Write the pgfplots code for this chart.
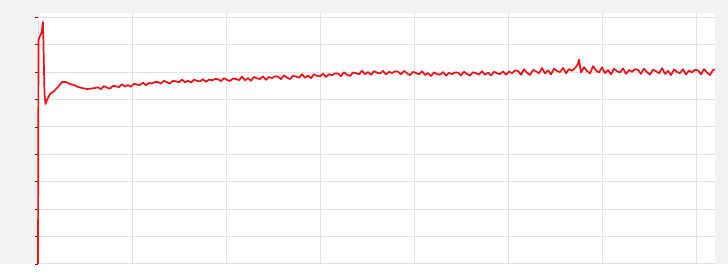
\documentclass[border=0pt]{standalone}
\usepackage{pgfplots}
\pgfplotsset{compat=1.18}
\definecolor{bgc}{HTML}{F2F2F0}
\definecolor{gridc}{HTML}{E2E2E2}
\definecolor{trace}{HTML}{EE1018}
\begin{document}
\begin{tikzpicture}
\fill[bgc] (-38bp,0bp) rectangle (690bp,264bp);
\begin{axis}[
  at={(0bp,0bp)}, anchor=south west,
  scale only axis, width=677bp, height=251bp,
  xmin=0, xmax=677, ymin=0, ymax=251,
  clip=false,
  axis background/.style={fill=white},
  axis line style={draw=none},
  xtick={0,94,188,282,376,470,564,658},
  ytick={0,27.4,54.8,82.2,109.6,137,164.4,191.8,219.2,246.6},
  xticklabels={}, yticklabels={},
  grid=major,
  major grid style={gridc, line width=1bp},
  x tick style={draw=none},
  y tick style={draw=trace!60!black, line width=0.6bp},
  major tick length=2.5bp,
  ytick pos=left, tick align=outside,
]
\addplot[trace, line width=1.7bp, line join=round] coordinates {
(0,0) (0.5,224) (2,228) (3.5,231) (5,242) (6.5,170) (7.5,160) (9,164)
(12,170) (15,172) (17,174) (20,177) (24,182) (28,182) (32,180) (36,179)
(40,177) (44,176) (49,175) (54,175.5)
(60,176.6) (63,174.9) (66,177.9) (69,176.3) (72,175.4) (75,178.2) (78,177.7) (81,176.9)
(84,179.8) (87,177.3) (90,179.0) (93,177.2) (96,180.3) (99,179.4) (102,179.0) (105,181.3)
(108,178.9) (111,181.1) (114,180.5) (117,182.0) (120,182.0) (123,180.3) (126,183.2) (129,181.7)
(132,180.6) (135,183.2) (138,182.6) (141,181.7) (144,184.4) (147,181.7) (150,183.3) (153,181.4)
(156,184.3) (159,183.2) (162,182.7) (165,184.8) (168,182.2) (171,184.4) (174,183.6) (177,185.0)
(180,184.8) (183,182.9) (186,185.8) (189,184.1) (192,183.0) (195,185.6) (198,184.9) (201,183.9)
(204,187.3) (207,183.8) (210,185.9) (213,183.2) (216,187.1) (219,185.6) (222,184.9) (225,187.6)
(228,184.2) (231,187.0) (234,185.9) (237,187.7) (240,187.4) (243,184.9) (246,188.7) (249,186.4)
(252,184.9) (255,188.3) (258,187.4) (261,186.3) (264,189.7) (267,186.3) (270,188.4) (273,185.8)
(276,189.7) (279,188.2) (282,187.6) (285,190.3) (288,187.0) (291,189.8) (294,188.7) (297,190.6)
(300,190.4) (303,187.9) (306,191.7) (309,189.4) (312,188.0) (315,191.5) (318,190.8) (321,189.7)
(324,193.2) (327,189.8) (330,192.0) (333,189.2) (336,192.9) (339,191.3) (342,190.5) (345,193.1)
(348,189.6) (351,192.2) (354,191.0) (357,192.7) (360,192.3) (363,189.7) (366,193.1) (369,190.6)
(372,188.9) (375,192.1) (378,191.0) (381,189.6) (384,192.8) (387,189.0) (390,190.9) (393,188.0)
(396,191.6) (399,190.0) (402,189.3) (405,191.9) (408,188.4) (411,191.1) (414,189.9) (417,191.6)
(420,191.3) (423,188.7) (426,192.3) (429,190.0) (432,188.4) (435,191.7) (438,190.8) (441,189.5)
(444,192.8) (447,189.3) (450,191.3) (453,188.5) (456,192.3) (459,190.7) (462,189.9) (465,192.6)
(468,189.3) (471,192.5) (474,190.8) (477,193.6) (480,193.1) (483,189.2) (486,194.7) (489,191.3)
(492,189.0) (495,194.1) (498,192.6) (501,190.7) (504,196.0) (507,190.5) (510,193.6) (513,189.6)
(516,195.3) (519,193.0) (522,191.9) (525,196.1) (528,190.8) (531,194.9) (534,193.2) (537,196.0)
(540,200.0) (541,204.5) (543,191.6) (546,196.8) (549,193.1) (552,190.5) (555,197.9) (558,193.6)
(561,191.5) (564,196.6) (567,190.9) (570,193.9) (573,189.7) (576,195.2) (579,192.8) (582,191.6)
(585,195.5) (588,190.1) (591,194.0) (594,192.2) (597,194.8) (600,194.1) (603,190.1) (606,195.4)
(609,191.8) (612,189.4) (615,194.3) (618,192.7) (621,190.7) (624,195.8) (627,190.2) (630,193.2)
(633,188.9) (636,194.5) (639,192.1) (642,190.9) (645,194.8) (648,189.4) (651,193.4) (654,191.6)
(657,194.2) (660,193.6) (663,189.6) (666,195.0) (669,191.4) (672,189.0) (675,194.0) (677,194.5)
};
\end{axis}
\end{tikzpicture}
\end{document}
